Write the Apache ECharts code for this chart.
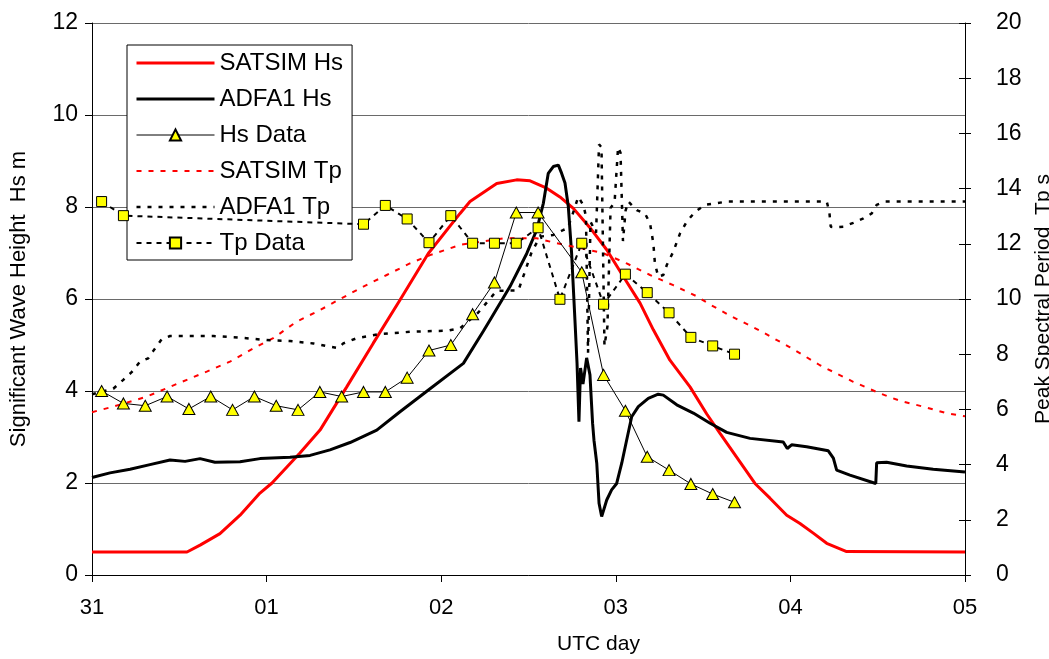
<!DOCTYPE html>
<html>
<head>
<meta charset="utf-8">
<style>html,body{margin:0;padding:0;background:#fff;overflow:hidden;width:1049px;height:659px}#c{width:1049px;height:659px}</style>
<script src="https://cdn.jsdelivr.net/npm/echarts@6/dist/echarts.min.js"></script>
</head>
<body>
<div id="c"></div>
<script>
// ---- data (x in days after 31st 00 UTC) ----
const dayLabels = ['31','01','02','03','04','05'];
const seriesNames = ['SATSIM Hs','ADFA1 Hs','Hs Data','SATSIM Tp','ADFA1 Tp','Tp Data'];

const satsimHsT = [0,0.544,0.619,0.733,0.848,0.962,1.031,1.191,1.306,1.459,1.611,1.764,1.926,2.108,2.165,2.318,2.432,2.509,2.604,2.68,2.757,2.852,2.948,3.043,3.139,3.215,3.31,3.425,3.521,3.597,3.711,3.797,3.883,3.979,4.055,4.131,4.208,4.322,5.0];
const satsimHsV = [0.5,0.5,0.65,0.9,1.3,1.78,2.0,2.65,3.15,4.09,5.04,5.98,6.99,7.86,8.12,8.51,8.59,8.57,8.41,8.22,7.97,7.55,7.07,6.49,5.91,5.33,4.67,4.09,3.5,3.08,2.46,1.99,1.67,1.3,1.12,0.91,0.69,0.51,0.5];

const adfaHsT = [0,0.103,0.218,0.332,0.447,0.533,0.619,0.704,0.848,0.962,1.134,1.249,1.363,1.478,1.631,1.764,1.936,2.127,2.241,2.279,2.394,2.49,2.547,2.585,2.613,2.642,2.671,2.69,2.709,2.728,2.747,2.766,2.778,2.789,2.798,2.812,2.833,2.852,2.867,2.875,2.891,2.904,2.919,2.948,2.976,3.005,3.034,3.062,3.091,3.129,3.186,3.243,3.272,3.349,3.444,3.54,3.635,3.769,3.959,3.982,4.007,4.093,4.217,4.246,4.265,4.341,4.489,4.494,4.551,4.666,4.818,5.0];
const adfaHsV = [2.12,2.22,2.3,2.4,2.5,2.47,2.53,2.45,2.46,2.53,2.56,2.6,2.72,2.88,3.15,3.55,4.05,4.6,5.3,5.54,6.27,6.99,7.5,8.08,8.73,8.88,8.91,8.73,8.52,8.01,6.99,5.54,4.6,3.33,4.5,4.15,4.72,4.35,3.3,2.93,2.43,1.56,1.27,1.63,1.85,1.99,2.43,2.93,3.44,3.66,3.84,3.93,3.91,3.7,3.52,3.3,3.1,2.97,2.89,2.75,2.83,2.79,2.7,2.54,2.28,2.17,1.99,2.44,2.45,2.37,2.3,2.24];

const hsDataT = [0.055,0.18,0.305,0.43,0.555,0.68,0.805,0.93,1.055,1.18,1.305,1.43,1.555,1.68,1.805,1.93,2.055,2.18,2.305,2.43,2.555,2.805,2.93,3.055,3.18,3.305,3.43,3.555,3.68];
const hsDataV = [4.0,3.73,3.68,3.88,3.61,3.88,3.59,3.88,3.68,3.59,3.98,3.88,3.98,3.98,4.29,4.88,5.0,5.67,6.36,7.88,7.88,6.58,4.35,3.57,2.57,2.28,1.98,1.76,1.58];

const satsimTpT = [0,0.122,0.313,0.447,0.657,0.79,0.924,1.038,1.172,1.306,1.43,1.554,1.688,1.821,1.936,2.108,2.356,2.547,2.661,2.795,2.928,3.062,3.196,3.329,3.463,3.54,3.654,3.826,3.998,4.169,4.36,4.513,4.628,4.761,4.895,5.0];
const satsimTpV = [5.9,6.1,6.46,6.82,7.37,7.73,8.21,8.58,9.18,9.6,10.03,10.45,10.87,11.29,11.59,11.96,12.2,12.2,12.02,11.85,11.66,11.29,10.87,10.5,10.1,9.8,9.4,8.85,8.25,7.6,7.0,6.58,6.31,6.1,5.86,5.75];

const adfaTpT = [0,0.122,0.179,0.227,0.275,0.322,0.351,0.399,0.447,0.695,0.886,1.0,1.134,1.268,1.363,1.409,1.439,1.516,1.649,1.84,2.032,2.108,2.211,2.318,2.442,2.48,2.518,2.566,2.642,2.699,2.724,2.749,2.785,2.814,2.829,2.841,2.855,2.887,2.904,2.918,2.935,2.952,2.97,2.993,3.013,3.027,3.041,3.056,3.072,3.12,3.167,3.196,3.215,3.224,3.243,3.272,3.292,3.329,3.368,3.406,3.454,3.511,3.578,3.635,4.208,4.223,4.231,4.255,4.303,4.36,4.418,4.466,4.494,4.542,5.0];
const adfaTpV = [6.55,6.75,7.07,7.35,7.73,7.85,8.12,8.54,8.66,8.66,8.58,8.51,8.48,8.39,8.27,8.22,8.39,8.58,8.73,8.82,8.85,8.94,9.5,10.3,10.31,11.0,11.7,12.26,12.32,12.5,12.56,13.0,13.7,13.4,13.0,8.05,12.8,12.4,15.6,15.5,8.3,9.0,13.3,13.5,15.5,15.3,12.1,13.2,13.53,13.22,13.1,12.74,12.02,11.29,10.81,10.87,11.23,11.71,12.38,12.8,13.16,13.41,13.47,13.53,13.53,13.16,12.62,12.6,12.62,12.76,12.92,13.1,13.41,13.53,13.53];

const tpDataT = [0.055,0.18,1.555,1.68,1.805,1.93,2.055,2.18,2.305,2.43,2.555,2.68,2.805,2.93,3.055,3.18,3.305,3.43,3.555,3.68];
const tpDataV = [13.53,13.02,12.71,13.39,12.9,12.04,13.02,12.02,12.02,12.02,12.58,9.99,12.02,9.81,10.9,10.23,9.5,8.61,8.3,8.0];

const hsTicks = {min:0, max:12, interval:2};
const tpTicks = {min:0, max:20, interval:2};

// ---- styles ----
const styles = {
  'SATSIM Hs': {line: {color: '#ff0000', width: 3, type: 'solid'}},
  'ADFA1 Hs':  {line: {color: '#000000', width: 3, type: 'solid'}},
  'Hs Data':   {line: {color: '#000000', width: 1, type: 'solid'}},
  'SATSIM Tp': {line: {color: '#ff0000', width: 2, type: [5, 7]}},
  'ADFA1 Tp':  {line: {color: '#000000', width: 2.5, type: [4, 7]}},
  'Tp Data':   {line: {color: '#000000', width: 2, type: [5, 5]}}
};
const noMarker = ['SATSIM Hs','ADFA1 Hs','SATSIM Tp','ADFA1 Tp'];

// ---- chart ----
const pairs = (t, v) => t.map((x, i) => [x, v[i]]);
const FONT = "'Liberation Sans', Arial, sans-serif";
const chart = echarts.init(document.getElementById('c'), null, {renderer: 'canvas', width: 1049, height: 659});

chart.setOption({
  animation: false,
  backgroundColor: '#fff',
  grid: {left: 92, right: 84, top: 23, bottom: 84, containLabel: false, outerBoundsMode: 'none'},
  legend: {
    orient: 'vertical', left: 127, top: 45,
    backgroundColor: '#fff', borderColor: '#000', borderWidth: 1,
    padding: [6, 9, 5, 8],
    itemWidth: 78, itemHeight: 14, itemGap: 12,
    selectedMode: false,
    textStyle: {fontFamily: FONT, fontSize: 24, color: '#000', lineHeight: 24},
    data: seriesNames.map(n => noMarker.includes(n)
      ? {name: n, itemStyle: {opacity: 0, borderWidth: 0}, lineStyle: styles[n].line}
      : {name: n, lineStyle: styles[n].line})
  },
  xAxis: {
    type: 'value', min: 0, max: 5, interval: 1,
    name: 'UTC day', nameLocation: 'middle', nameGap: 59,
    nameTextStyle: {fontFamily: FONT, fontSize: 21, color: '#000', padding: [0, 0, 0, 140]},
    axisLine: {show: true, onZero: false, lineStyle: {color: '#000', width: 1}},
    axisTick: {show: true, length: 7, lineStyle: {color: '#000'}},
    axisLabel: {margin: 22, fontFamily: FONT, fontSize: 22, color: '#000',
      formatter: v => dayLabels[Math.round(v)]},
    splitLine: {show: false}
  },
  yAxis: [
    {
      type: 'value', position: 'left', min: hsTicks.min, max: hsTicks.max, interval: hsTicks.interval,
      name: 'Significant Wave Height  Hs m', nameLocation: 'middle', nameRotate: 90, nameGap: 62,
      nameTextStyle: {fontFamily: FONT, fontSize: 22, color: '#000'},
      axisLine: {show: true, lineStyle: {color: '#000', width: 1}},
      axisTick: {show: true, length: 7, lineStyle: {color: '#000'}},
      axisLabel: {margin: 14, fontFamily: FONT, fontSize: 23, color: '#000'},
      splitLine: {show: true, lineStyle: {color: '#6a6a6a', width: 1}}
    },
    {
      type: 'value', position: 'right', min: tpTicks.min, max: tpTicks.max, interval: tpTicks.interval,
      name: 'Peak Spectral Period  Tp s', nameLocation: 'middle', nameRotate: 90, nameGap: 53,
      nameTextStyle: {fontFamily: FONT, fontSize: 21, color: '#000'},
      axisLine: {show: true, lineStyle: {color: '#000', width: 1}},
      axisTick: {show: true, length: 6, lineStyle: {color: '#000'}},
      axisLabel: {margin: 31, fontFamily: FONT, fontSize: 23, color: '#000'},
      splitLine: {show: false}
    },
    {
      type: 'value', position: 'right', min: tpTicks.min, max: tpTicks.max, interval: tpTicks.interval,
      axisLine: {show: false},
      axisTick: {show: true, inside: true, length: 6, lineStyle: {color: '#000'}},
      axisLabel: {show: false},
      splitLine: {show: false}
    }
  ],
  series: [
    {name: 'SATSIM Hs', type: 'line', yAxisIndex: 0, symbol: 'none', z: 3,
     lineStyle: styles['SATSIM Hs'].line, itemStyle: {color: '#ff0000'},
     data: pairs(satsimHsT, satsimHsV)},
    {name: 'ADFA1 Hs', type: 'line', yAxisIndex: 0, symbol: 'none', z: 3,
     lineStyle: styles['ADFA1 Hs'].line, itemStyle: {color: '#000'},
     data: pairs(adfaHsT, adfaHsV)},
    {name: 'Hs Data', type: 'line', yAxisIndex: 0, symbol: 'triangle', symbolSize: [12, 11], z: 4,
     lineStyle: styles['Hs Data'].line, itemStyle: {color: '#ffff00', borderColor: '#000', borderWidth: 1},
     data: pairs(hsDataT, hsDataV)},
    {name: 'SATSIM Tp', type: 'line', yAxisIndex: 1, symbol: 'none', z: 3,
     lineStyle: styles['SATSIM Tp'].line, itemStyle: {color: '#ff0000'},
     data: pairs(satsimTpT, satsimTpV)},
    {name: 'ADFA1 Tp', type: 'line', yAxisIndex: 1, symbol: 'none', z: 3,
     lineStyle: styles['ADFA1 Tp'].line, itemStyle: {color: '#000'},
     data: pairs(adfaTpT, adfaTpV)},
    {name: 'Tp Data', type: 'line', yAxisIndex: 1, symbol: 'rect', symbolSize: 10, z: 4,
     lineStyle: styles['Tp Data'].line, itemStyle: {color: '#ffff00', borderColor: '#000', borderWidth: 1},
     data: pairs(tpDataT, tpDataV)}
  ]
});
</script>
</body>
</html>
